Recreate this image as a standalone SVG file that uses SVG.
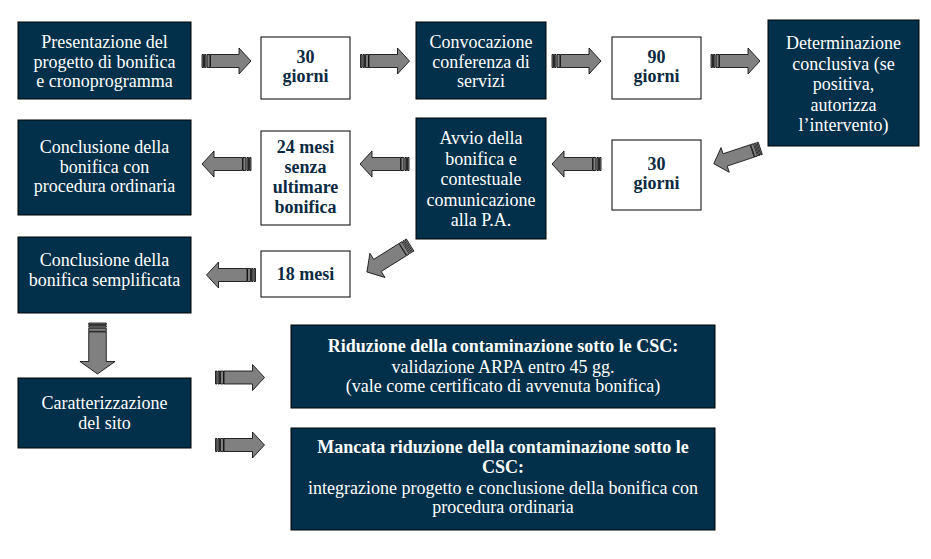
<svg xmlns="http://www.w3.org/2000/svg" xmlns:xlink="http://www.w3.org/1999/xlink" width="931" height="559" viewBox="0 0 931 559">
<style>
.dk{fill:#02304a;stroke:#000;stroke-width:1}
.wb{fill:#fff;stroke:#000;stroke-width:1}
.tw{font-family:"Liberation Serif","Times New Roman",serif;font-size:18px;fill:#fff;text-anchor:middle}
.tb{font-family:"Liberation Serif","Times New Roman",serif;font-size:18px;font-weight:bold;fill:#0b2a42;text-anchor:middle}
.bw{font-weight:bold}
.ag{fill:#808080;stroke:#000;stroke-width:0.8;vector-effect:non-scaling-stroke}
</style>
<defs>
<g id="arr">
<rect class="ag" x="-24.5" y="-6.5" width="1.5" height="13"/>
<rect class="ag" x="-22" y="-6.5" width="1.5" height="13"/>
<rect class="ag" x="-19.5" y="-6.5" width="3" height="13"/>
<path class="ag" d="M-16,-6.5 H12.5 V-13 L24.5,0 L12.5,13 V6.5 H-16 Z"/>
</g>
</defs>
<rect width="931" height="559" fill="#fff"/>
<g id="n1"><rect class="dk" x="18" y="22" width="173" height="77"/>
<text class="tw" x="104.5" y="48">Presentazione del</text>
<text class="tw" x="104.5" y="67.5">progetto di bonifica</text>
<text class="tw" x="104.5" y="87">e cronoprogramma</text></g>
<g id="n2"><rect class="wb" x="261" y="37" width="89" height="62"/>
<text class="tb" x="305.5" y="63">30</text>
<text class="tb" x="305.5" y="82">giorni</text></g>
<g id="n3"><rect class="dk" x="416" y="22" width="130" height="77"/>
<text class="tw" x="481" y="48">Convocazione</text>
<text class="tw" x="481" y="67.5">conferenza di</text>
<text class="tw" x="481" y="87">servizi</text></g>
<g id="n4"><rect class="wb" x="612" y="37" width="89" height="62"/>
<text class="tb" x="656.5" y="63">90</text>
<text class="tb" x="656.5" y="82">giorni</text></g>
<g id="n5"><rect class="dk" x="768" y="20" width="151" height="126"/>
<text class="tw" x="843.5" y="49">Determinazione</text>
<text class="tw" x="843.5" y="69.5">conclusiva (se</text>
<text class="tw" x="843.5" y="90">positiva,</text>
<text class="tw" x="843.5" y="110.5">autorizza</text>
<text class="tw" x="843.5" y="131">l’intervento)</text></g>
<g id="n6"><rect class="dk" x="18" y="120" width="173" height="95"/>
<text class="tw" x="104.5" y="153">Conclusione della</text>
<text class="tw" x="104.5" y="172.5">bonifica con</text>
<text class="tw" x="104.5" y="192">procedura ordinaria</text></g>
<g id="n7"><rect class="wb" x="261" y="131" width="89" height="94"/>
<text class="tb" x="305.5" y="153">24 mesi</text>
<text class="tb" x="305.5" y="173">senza</text>
<text class="tb" x="305.5" y="193">ultimare</text>
<text class="tb" x="305.5" y="213">bonifica</text></g>
<g id="n8"><rect class="dk" x="416" y="118" width="130" height="121"/>
<text class="tw" x="481" y="144">Avvio della</text>
<text class="tw" x="481" y="164.5">bonifica e</text>
<text class="tw" x="481" y="185">contestuale</text>
<text class="tw" x="481" y="205.5">comunicazione</text>
<text class="tw" x="481" y="226">alla P.A.</text></g>
<g id="n9"><rect class="wb" x="612" y="140" width="89" height="70"/>
<text class="tb" x="656.5" y="170">30</text>
<text class="tb" x="656.5" y="189">giorni</text></g>
<g id="n10"><rect class="dk" x="18" y="237" width="173" height="76"/>
<text class="tw" x="104.5" y="266">Conclusione della</text>
<text class="tw" x="104.5" y="286">bonifica semplificata</text></g>
<g id="n11"><rect class="wb" x="261" y="251" width="89" height="46"/>
<text class="tb" x="305.5" y="280">18 mesi</text></g>
<g id="n12"><rect class="dk" x="18" y="378" width="173" height="70"/>
<text class="tw" x="104.5" y="409">Caratterizzazione</text>
<text class="tw" x="104.5" y="428.5">del sito</text></g>
<g id="n13"><rect class="dk" x="291" y="325" width="424" height="83"/>
<text class="tw bw" x="503" y="352">Riduzione della contaminazione sotto le CSC:</text>
<text class="tw" x="503" y="372.5">validazione ARPA entro 45 gg.</text>
<text class="tw" x="503" y="392">(vale come certificato di avvenuta bonifica)</text></g>
<g id="n14"><rect class="dk" x="291" y="428" width="424" height="102"/>
<text class="tw bw" x="503" y="453">Mancata riduzione della contaminazione sotto le</text>
<text class="tw bw" x="503" y="473">CSC:</text>
<text class="tw" x="503" y="494">integrazione progetto e conclusione della bonifica con</text>
<text class="tw" x="503" y="513">procedura ordinaria</text></g>
<g id="connectors">
<use xlink:href="#arr" transform="translate(226.5,61)"/>
<use xlink:href="#arr" transform="translate(385,61)"/>
<use xlink:href="#arr" transform="translate(576.5,61)"/>
<use xlink:href="#arr" transform="translate(735.5,61)"/>
<use xlink:href="#arr" transform="translate(737,156) rotate(161.6)"/>
<use xlink:href="#arr" transform="translate(576.5,164) rotate(180)"/>
<use xlink:href="#arr" transform="translate(384.5,164) rotate(180)"/>
<use xlink:href="#arr" transform="translate(226.5,164) rotate(180)"/>
<use xlink:href="#arr" transform="translate(388.5,258.5) rotate(148) scale(1.04,1.1)"/>
<use xlink:href="#arr" transform="translate(231,275) rotate(180)"/>
<use xlink:href="#arr" transform="translate(97.5,348.5) rotate(90) scale(1.04,1.35)"/>
<use xlink:href="#arr" transform="translate(240,377.5)"/>
<use xlink:href="#arr" transform="translate(240,445)"/>
</g>
</svg>
